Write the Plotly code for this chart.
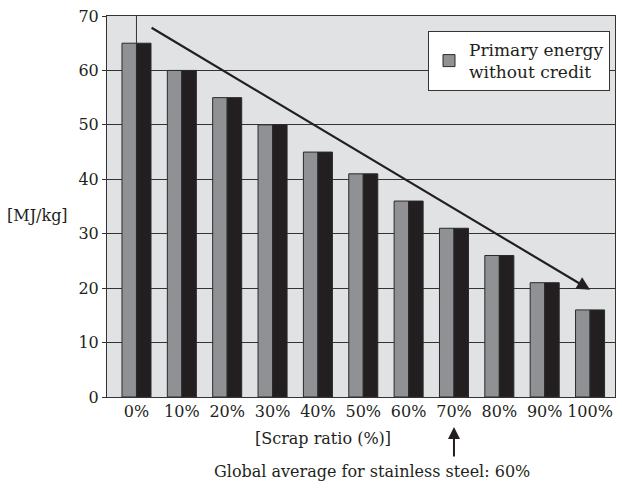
import plotly.graph_objects as go

categories = ["0%", "10%", "20%", "30%", "40%", "50%", "60%", "70%", "80%", "90%", "100%"]
primary_energy = [65, 60, 55, 50, 45, 41, 36, 31, 26, 21, 16]
y_ticks = [0, 10, 20, 30, 40, 50, 60, 70]
trend_start = (0.3, 68)
trend_end = (10.0, 19.7)
global_avg_category = "70%"

FONT = "DejaVu Serif"
GRAY = "#909194"
DARK = "#231f20"
BG = "#e1e2e4"

W, H = 622, 489
L, R, T, B = 107, 7, 16, 92
PW, PH = W - L - R, H - T - B
OX, OY = L, T


def px(xw):
    return (xw - OX) / PW


def py(yw):
    return (OY + PH - yw) / PH


fig = go.Figure()
fig.add_trace(go.Bar(
    x=categories, y=primary_energy, name="Primary energy<br>without credit",
    marker=dict(color=GRAY, line=dict(color="#2a2a2a", width=1)),
    showlegend=True,
))
fig.add_trace(go.Bar(
    x=categories, y=primary_energy, name="side",
    marker=dict(color=DARK, line=dict(color="#2a2a2a", width=1)),
    showlegend=False,
))

# corner line above first bar
fig.add_shape(type="line", xref="x", yref="y", x0=0, x1=0,
              y0=primary_energy[0], y1=y_ticks[-1],
              line=dict(color="#333", width=1))

# trend arrow
fig.add_annotation(x=trend_end[0], y=trend_end[1], ax=trend_start[0], ay=trend_start[1],
                   xref="x", yref="y", axref="x", ayref="y", text="",
                   showarrow=True, arrowhead=2, arrowsize=1.2, arrowwidth=2.2,
                   arrowcolor=DARK)

# global average arrow
idx = categories.index(global_avg_category)
fig.add_annotation(x=idx, y=py(427), xref="x", yref="paper", ax=0, ay=31,
                   text="", showarrow=True, arrowhead=2, arrowsize=1.2,
                   arrowwidth=2, arrowcolor=DARK)

fig.add_annotation(x=px(323), y=py(438), xref="paper", yref="paper",
                   xanchor="center", yanchor="middle",
                   text="[Scrap ratio (%)]", showarrow=False,
                   font=dict(family=FONT, size=16, color=DARK))
fig.add_annotation(x=px(372), y=py(471), xref="paper", yref="paper",
                   xanchor="center", yanchor="middle",
                   text="Global average for stainless steel: 60%", showarrow=False,
                   font=dict(family=FONT, size=16, color=DARK))
fig.add_annotation(x=px(37), y=py(215), xref="paper", yref="paper",
                   xanchor="center", yanchor="middle",
                   text="[MJ/kg]", showarrow=False,
                   font=dict(family=FONT, size=16, color=DARK))

fig.update_layout(
    width=W, height=H,
    margin=dict(l=L, r=R, t=T, b=B),
    paper_bgcolor="white", plot_bgcolor=BG,
    barmode="group", bargap=0.36, bargroupgap=0,
    font=dict(family=FONT, size=16, color=DARK),
    legend=dict(x=px(610), y=py(31), xanchor="right", yanchor="top",
                bgcolor="white", bordercolor="#333", borderwidth=1,
                font=dict(family=FONT, size=17, color=DARK)),
    xaxis=dict(range=[-0.65, 10.55], showgrid=False, ticks="",
               showline=True, linecolor="#333", linewidth=1, mirror=True,
               tickfont=dict(family=FONT, size=16, color=DARK)),
    yaxis=dict(range=[0, 70], tickvals=y_ticks, showgrid=True, gridcolor="#333",
               gridwidth=1, ticks="outside", ticklen=4, tickcolor="#333",
               showline=True, linecolor="#333", linewidth=1, mirror=True,
               zeroline=False,
               tickfont=dict(family=FONT, size=16, color=DARK)),
)

fig.write_html("out.html",
               config={"displayModeBar": False},
               post_script="document.body.style.margin='0';document.body.style.overflow='hidden';")
